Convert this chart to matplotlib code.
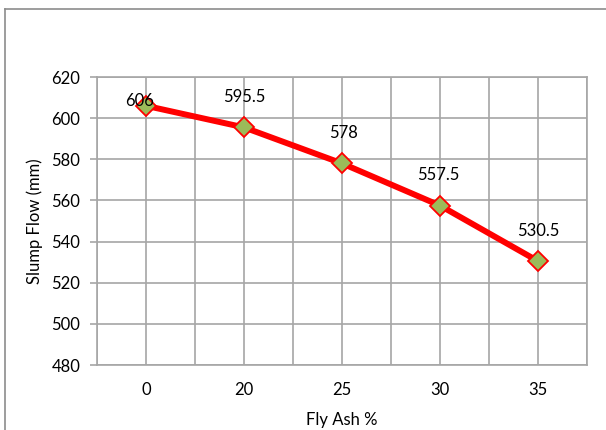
import numpy as np
import matplotlib.pyplot as plt
from matplotlib.lines import Line2D

fly_ash = ['0', '20', '25', '30', '35']
slump = [606, 595.5, 578, 557.5, 530.5]
labels = ['606', '595.5', '578', '557.5', '530.5']

plt.rcParams['font.family'] = ['Lato', 'DejaVu Sans']
grey = '#A6A6A6'
fs = 12

fig = plt.figure(figsize=(6.06, 4.3), dpi=100)
ax = fig.add_axes([97/606, 1-365/430, 490/606, 288/430])

x = np.arange(len(slump))
ax.plot(x, slump, color='#FF0000', lw=4.3, marker='D', ms=10.5,
        mfc='#9BBB59', mec='#FF0000', mew=1.3, zorder=3)

# data labels (first one is pushed down like excel does at the top edge)
offs = [(-4.5, 3.5), (0, 22), (1, 22), (-1, 22), (0, 22)]
for xi, yi, t, o in zip(x, slump, labels, offs):
    ax.annotate(t, (xi, yi), xytext=o, textcoords='offset points',
                ha='center', va='center', fontsize=fs, zorder=4)

ax.set_xlim(-0.5, 4.5)
ax.set_ylim(480, 620)
ax.set_yticks(np.arange(480, 621, 20))
ax.set_xticks(x)
ax.set_xticklabels(fly_ash)
ax.set_xticks(np.arange(-0.5, 4.6, 1), minor=True)

ax.grid(True, which='both', axis='x', color=grey, lw=1.2)
ax.grid(True, axis='y', color=grey, lw=1.2)
ax.set_axisbelow(True)
for s in ax.spines.values():
    s.set_color(grey)
    s.set_linewidth(1.2)

ax.tick_params(axis='y', length=5, color=grey, width=1.2, labelsize=fs, pad=7)
ax.tick_params(axis='x', which='major', length=0, labelsize=fs, pad=12)
ax.tick_params(axis='x', which='minor', length=0)

ax.set_xlabel('Fly Ash %', fontsize=fs, labelpad=10)
ax.set_ylabel('Slump Flow (mm)', fontsize=fs, labelpad=6)

# outer chart border (left and top edges visible)
fig.add_artist(Line2D([5/606, 5/606], [0, 1-9/430], color='#8C8C8C', lw=1.2))
fig.add_artist(Line2D([5/606, 1], [1-9/430, 1-9/430], color='#8C8C8C', lw=1.2))

fig.savefig('out.png', dpi=100)
